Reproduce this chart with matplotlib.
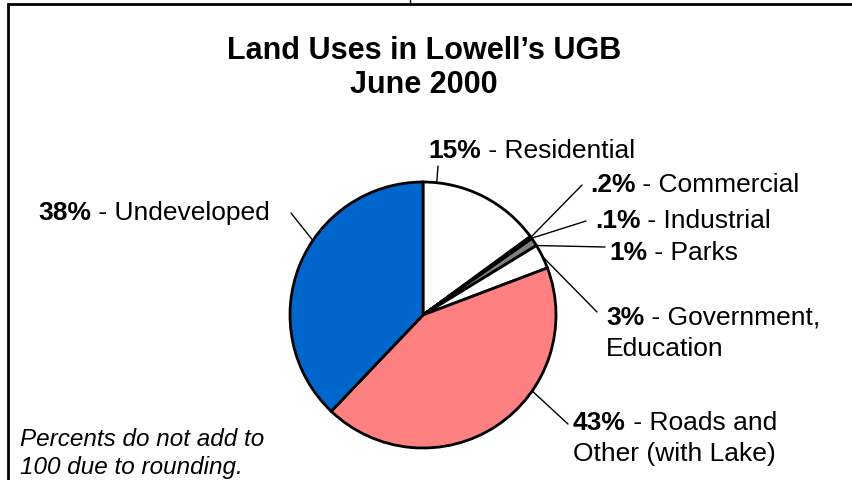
import matplotlib.pyplot as plt
from matplotlib.patches import Rectangle
from matplotlib.lines import Line2D
import numpy as np

W, H = 853, 481

uses = ['Residential', 'Commercial', 'Industrial', 'Parks',
        'Government, Education', 'Roads and Other (with Lake)', 'Undeveloped']
percents = [15, 0.2, 0.1, 1, 3, 43, 38]
pct_labels = ['15%', '.2%', '.1%', '1%', '3%', '43%', '38%']
label_text = [' - Residential', ' - Commercial', ' - Industrial', ' - Parks',
              ' - Government,\nEducation', ' - Roads and\nOther (with Lake)',
              ' - Undeveloped']
colors = ['white', 'black', '#202020', '#808080', 'white', '#FF8080', '#0066CC']

plt.rcParams['font.family'] = ['Liberation Sans', 'DejaVu Sans']

fig = plt.figure(figsize=(W / 100, H / 100), dpi=100)

# frame around the chart area
fig.patches.append(Rectangle((8 / W, -0.1), 1.2, 1.1 - 5 / H, transform=fig.transFigure,
                             fill=False, edgecolor='black', linewidth=2))
fig.lines.append(Line2D([410 / W, 410 / W], [1 - 5 / H, 1.0], transform=fig.transFigure,
                        color='black', linewidth=1))

fig.text(424 / W, 1 - 59 / H, 'Land Uses in Lowell\u2019s UGB', ha='center', va='baseline',
         fontsize=22, weight='bold')
fig.text(424 / W, 1 - 93 / H, 'June 2000', ha='center', va='baseline',
         fontsize=22, weight='bold')

# pie: centre (423, 316) px, radius 133 px
cx, cy, r = 423, 316, 133
ax = fig.add_axes([(cx - r) / W, (H - cy - r) / H, 2 * r / W, 2 * r / H])
wedges, _ = ax.pie(percents, colors=colors, startangle=90, counterclock=False,
                   wedgeprops=dict(edgecolor='black', linewidth=2))
for w in wedges:
    w.set_clip_on(False)
ax.set_xlim(-1, 1)
ax.set_ylim(-1, 1)
ax.axis('off')

renderer = fig.canvas.get_renderer()


def label(x, y, bold, rest, size=19):
    # bold percent followed by plain text, second line aligned under the first
    t = fig.text(x / W, 1 - y / H, bold, weight='bold', fontsize=size, va='baseline')
    bb = t.get_window_extent(renderer)
    lines = rest.split('\n')
    fig.text(bb.x1 / W, 1 - y / H, lines[0], fontsize=size, va='baseline')
    for i, ln in enumerate(lines[1:], 1):
        fig.text(x / W, 1 - (y + 31 * i) / H, ln, fontsize=size, va='baseline')


# label position (left x, baseline y), leader anchor along wedge, leader end
label_pos = [(428, 158), (590, 192), (595, 228), (609, 260), (606, 325), (573, 430), (38, 220)]
anchor_frac = [0.89, 0.5, 0.5, 0.0, 0.5, 0.64, 0.41]
leader_end = [(438, 167), (582, 186), (586, 222), (605, 248), (597, 313), (568, 425), (291, 214)]

for w, (lx, ly), f, (ex, ey), p, txt in zip(wedges, label_pos, anchor_frac, leader_end,
                                            pct_labels, label_text):
    a = np.deg2rad(w.theta1 + f * (w.theta2 - w.theta1))
    ax.annotate('', xy=(np.cos(a), np.sin(a)), xycoords='data',
                xytext=(ex, H - ey), textcoords='figure pixels', annotation_clip=False,
                arrowprops=dict(arrowstyle='-', color='black', lw=1, shrinkA=0, shrinkB=0))
    label(lx, ly, p, txt)

fig.text(20 / W, 1 - 446 / H, 'Percents do not add to', fontsize=17.5, style='italic',
         va='baseline')
fig.text(20 / W, 1 - 474 / H, '100 due to rounding.', fontsize=17.5, style='italic',
         va='baseline')

plt.savefig('out.png', dpi=100)
